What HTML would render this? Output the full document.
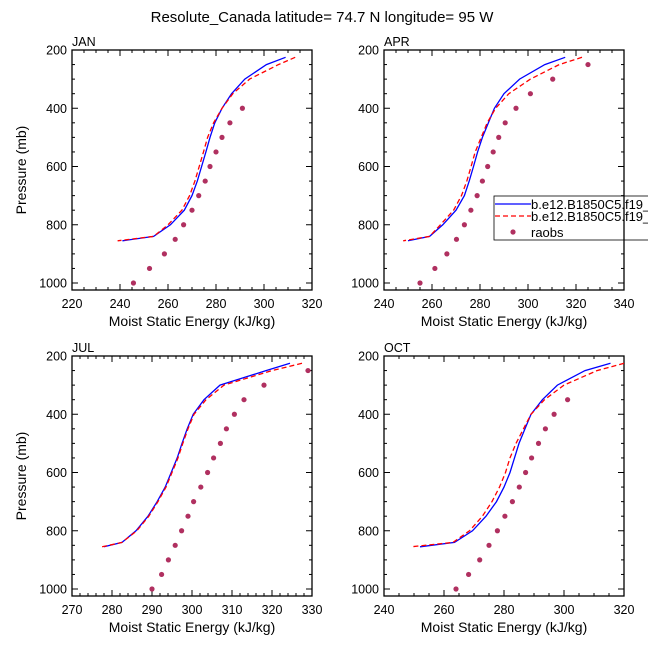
<!DOCTYPE html>
<html><head><meta charset="utf-8"><style>
html,body{margin:0;padding:0;background:#fff}
svg{display:block;font-family:"Liberation Sans",Arial,sans-serif}
</style></head><body>
<svg id="chart" width="648" height="648" viewBox="0 0 648 648">
<text x="322" y="22" text-anchor="middle" font-size="15">Resolute_Canada  latitude= 74.7 N longitude= 95 W</text>
</svg>
<script>
const levels = [225,250,300,350,400,450,500,550,600,650,700,750,800,840,855];
const obsLevels = [250,300,350,400,450,500,550,600,650,700,750,800,850,900,950,1000];
const janBlue = [309,301,292,286.5,282.5,279.5,277.5,275.8,274,272.2,270,266.8,261,254,241];
const janRed = [313,306,294,287,282.5,279,276.5,274.8,273,271.2,269,265.8,260,254,239];
const janObs = [null,null,null,291,285.8,282.5,280,277.5,275.5,272.8,270,266.5,263,258.5,252.3,245.6];
const aprBlue = [315.5,307,296.5,290,286,283.5,281,279,277.3,275.5,273.5,270,264.5,259,250];
const aprRed = [322.5,313,301,292,286.5,283,280.5,278,276.3,274.5,272.3,269,263.5,259,248];
const aprObs = [325,310.3,301,295,290.5,287.8,285.5,283.2,281,278.8,276.2,273.5,270.2,266.2,261.2,255];
const julBlue = [324.5,318.5,307,303,300.3,298.8,297.5,296.3,294.8,293.3,291.3,289,286,282.5,278];
const julRed = [327.5,320,308,303.5,300.5,299,297.7,296.5,295,293.5,291.5,289.2,286.2,282.5,277.5];
const julObs = [329,318,313,310.6,308.6,307.1,305.4,303.9,302.2,300.4,299,297.4,295.8,294.1,292.4,290];
const octBlue = [315.5,307,297.8,292.8,289,287,285,283.5,282,280,277.5,274,269.5,263.5,252];
const octRed = [320,311,300,293.5,289,286.5,284,282,280.5,278.5,276,272.8,268.5,263,249];
const octObs = [null,null,301.2,296.7,293.8,291.5,289.2,287.2,285.1,282.8,280.3,277.8,275,271.9,268.2,264];
const yTicks = [200,400,600,800,1000];

const NS="http://www.w3.org/2000/svg";
const svg=document.getElementById('chart');
function mk(tag,attrs,parent){const e=document.createElementNS(NS,tag);for(const k in attrs)e.setAttribute(k,attrs[k]);(parent||svg).appendChild(e);return e;}

const panels=[
 {name:'jan',label:'JAN',x0:72,y0:50,xmin:220,xmax:320,major:20,minor:5,blue:janBlue,red:janRed,obs:janObs,ylab:true},
 {name:'apr',label:'APR',x0:384,y0:50,xmin:240,xmax:340,major:20,minor:5,blue:aprBlue,red:aprRed,obs:aprObs,ylab:false},
 {name:'jul',label:'JUL',x0:72,y0:356,xmin:270,xmax:330,major:10,minor:2,blue:julBlue,red:julRed,obs:julObs,ylab:true},
 {name:'oct',label:'OCT',x0:384,y0:356,xmin:240,xmax:320,major:20,minor:5,blue:octBlue,red:octRed,obs:octObs,ylab:false}
];
const W=240,H=240,PMIN=200,PMAX=1024;
panels.forEach(p=>{
 const g=mk('g',{});
 
 
 const xs=v=>p.x0+(v-p.xmin)/(p.xmax-p.xmin)*W;
 const ys=v=>p.y0+(v-PMIN)/(PMAX-PMIN)*H;
 const clipId='clip-'+p.name;
 const cp=mk('clipPath',{id:clipId},g);
 mk('rect',{x:p.x0,y:p.y0,width:W,height:H},cp);
 for(let v=p.xmin;v<=p.xmax+1e-6;v+=p.minor){
  const r=(v-p.xmin)%p.major;
  const isMaj=Math.abs(r)<1e-6||Math.abs(r-p.major)<1e-6;
  const L=isMaj?6:3,x=xs(v);
  mk('line',{x1:x,y1:p.y0+H,x2:x,y2:p.y0+H-L,stroke:'#000','stroke-width':1},g);
  mk('line',{x1:x,y1:p.y0,x2:x,y2:p.y0+L,stroke:'#000','stroke-width':1},g);
  if(isMaj){const t=mk('text',{x:x,y:p.y0+H+18,'text-anchor':'middle','font-size':12.5},g);t.textContent=Math.round(v);
   }
 }
 for(let v=200;v<=1000;v+=50){
  const isMaj=v%200===0;const L=isMaj?6:3,y=ys(v);
  mk('line',{x1:p.x0,y1:y,x2:p.x0+L,y2:y,stroke:'#000','stroke-width':1},g);
  mk('line',{x1:p.x0+W,y1:y,x2:p.x0+W-L,y2:y,stroke:'#000','stroke-width':1},g);
 }
 yTicks.forEach(v=>{const t=mk('text',{x:p.x0-5,y:ys(v)+4.5,'text-anchor':'end','font-size':12.5},g);t.textContent=v;
  });
 const fr=mk('rect',{x:p.x0,y:p.y0,width:W,height:H,fill:'none',stroke:'#000','stroke-width':1.3},g);
 
 const lb=mk('text',{x:p.x0,y:p.y0-4,'font-size':12.5},g);lb.textContent=p.label;
 
 const xt=mk('text',{x:p.x0+W/2,y:p.y0+H+36,'text-anchor':'middle','font-size':14},g);xt.textContent='Moist Static Energy (kJ/kg)';
 
 if(p.ylab){const yt=mk('text',{x:0,y:0,'text-anchor':'middle','font-size':14,transform:`translate(26,${p.y0+H/2}) rotate(-90)`},g);yt.textContent='Pressure (mb)';
  }
 const pts=arr=>arr.map((v,i)=>xs(v).toFixed(1)+','+ys(levels[i]).toFixed(1)).join(' ');
 const bl=mk('polyline',{points:pts(p.blue),fill:'none',stroke:'#0000ff','stroke-width':1.3,'clip-path':`url(#${clipId})`},g);
 
 const rl=mk('polyline',{points:pts(p.red),fill:'none',stroke:'#ff0000','stroke-width':1.3,'stroke-dasharray':'5,3','clip-path':`url(#${clipId})`},g);
 
 p.obs.forEach((v,i)=>{if(v==null)return;
  const c=mk('circle',{cx:xs(v),cy:ys(obsLevels[i]),r:2.6,fill:'#b03060'},g);
  });
});
const lg=mk('g',{});


mk('rect',{x:494,y:196,width:160,height:44,fill:'#fff',stroke:'#000','stroke-width':0.8},lg);
mk('line',{x1:495,y1:204,x2:531,y2:204,stroke:'#0000ff','stroke-width':1.3},lg);
mk('line',{x1:495,y1:216,x2:531,y2:216,stroke:'#ff0000','stroke-width':1.3,'stroke-dasharray':'5,3'},lg);
mk('circle',{cx:513,cy:232,r:2.6,fill:'#b03060'},lg);
const l1=mk('text',{x:531,y:209,'font-size':13},lg);l1.textContent='b.e12.B1850C5.f19_g16';

const l2=mk('text',{x:531,y:221,'font-size':13},lg);l2.textContent='b.e12.B1850C5.f19_g16';

const l3=mk('text',{x:531,y:237,'font-size':13},lg);l3.textContent='raobs';

mk('line',{x1:624,y1:196,x2:624,y2:240,stroke:'#000','stroke-width':1.3},lg);
</script>
</body></html>
